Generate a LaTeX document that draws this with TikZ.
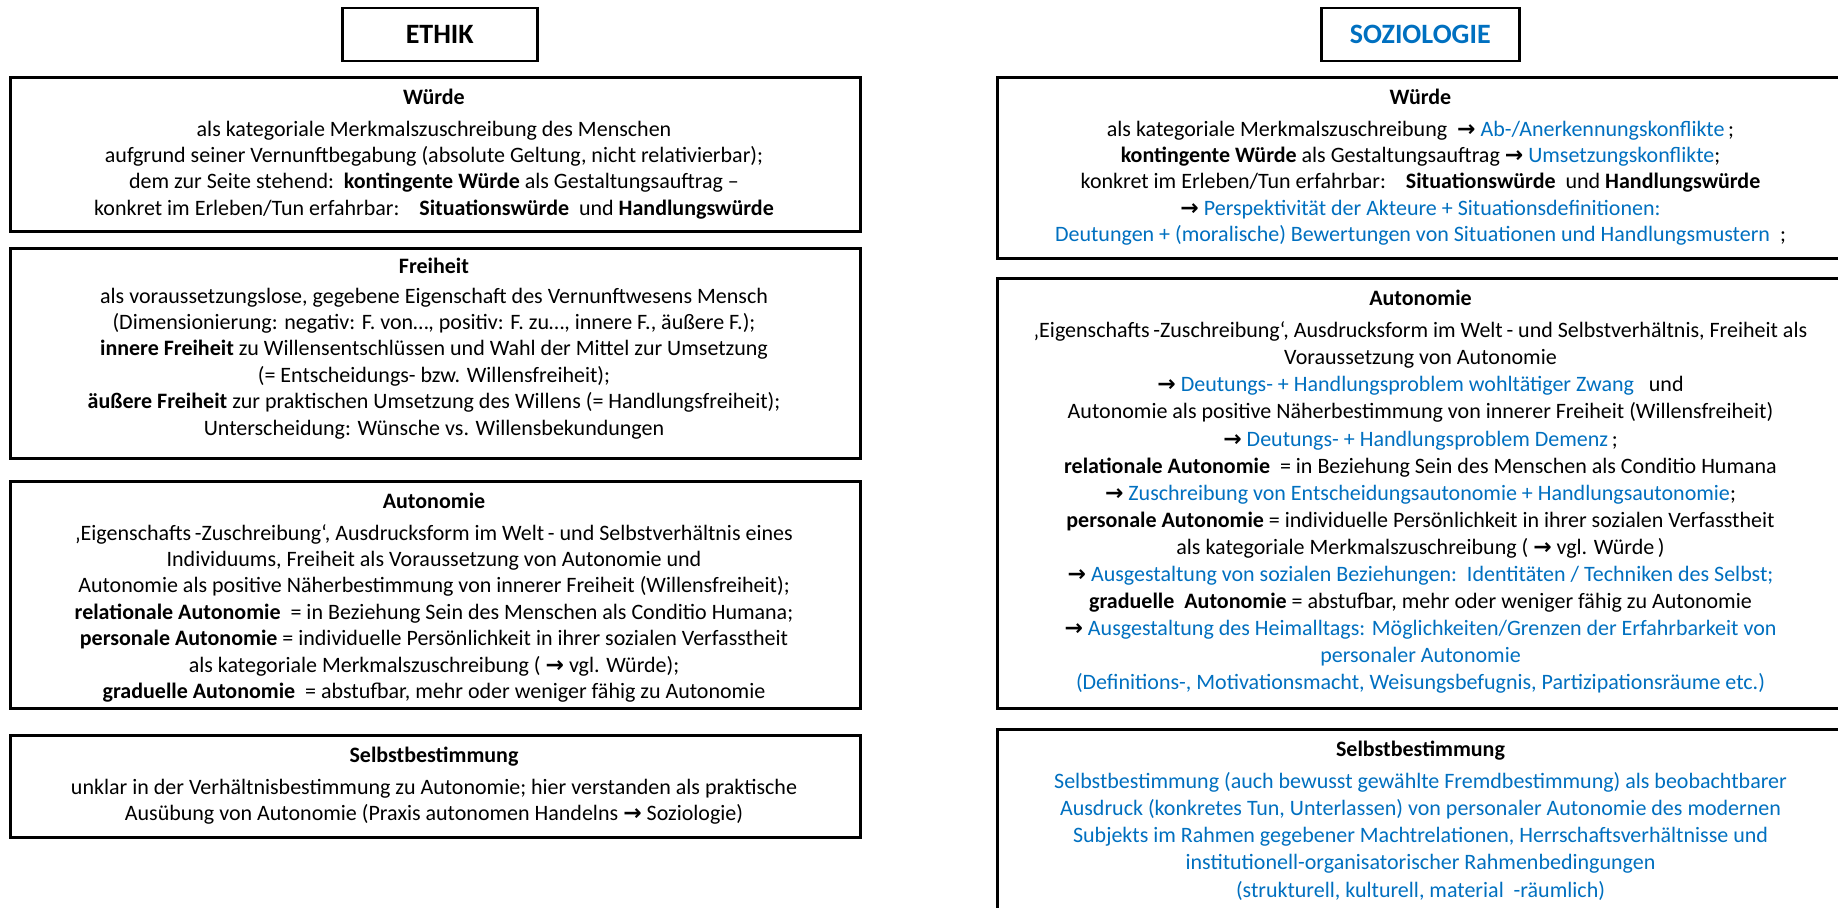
\documentclass[tikz,border=0pt]{standalone}
\usepackage{fontspec}
\setmainfont{Carlito}
\newfontfamily\arrowfont{DejaVu Sans}
\definecolor{sblue}{HTML}{0070C0}
\newcommand{\arr}{{\arrowfont\bfseries →}}
\newcommand{\bl}[1]{\textcolor{sblue}{#1}}
\begin{document}
\begin{tikzpicture}[x=1pt,y=-1pt,
  box/.style={draw=black, line width=2.5pt, fill=white, inner sep=0pt, anchor=north west},
  head/.style={box, font=\fontsize{28}{32}\selectfont\bfseries},
  txt/.style={align=center, inner sep=0pt, anchor=north, font=\fontsize{22}{26.4}\selectfont},
  txtb/.style={txt, font=\fontsize{22}{27.1}\selectfont}]
\useasboundingbox (0,0) rectangle (1838,907);
\clip (0,0) rectangle (1838,907);

% headers
\node[head, minimum width=195pt, minimum height=53pt] (eth) at (341,7) {ETHIK};
\node[head, minimum width=198pt, minimum height=53pt, text=sblue] (soz) at (1320,7) {SOZIOLOGIE};

% left column boxes
\node[box, minimum width=850pt, minimum height=154pt] (lw) at (9,76) {};
\node[box, minimum width=850pt, minimum height=210pt] (lf) at (9,247) {};
\node[box, minimum width=850pt, minimum height=227pt] (la) at (9,480) {};
\node[box, minimum width=850pt, minimum height=102pt] (ls) at (9,734) {};

% right column boxes
\node[box, minimum width=849pt, minimum height=181pt] (rw) at (996,76) {};
\node[box, minimum width=849pt, minimum height=430pt] (ra) at (996,277) {};
\node[box, minimum width=849pt, minimum height=200pt] (rs) at (996,728) {};

% left texts
\node[txt] (lwt) at (434,85.5) {\strut\textbf{Würde}\\[5.6pt]
als kategoriale Merkmalszuschreibung des Menschen\\
aufgrund seiner Vernunftbegabung (absolute Geltung, nicht relativierbar);\\
dem zur Seite stehend:\ \ \textbf{kontingente Würde} als Gestaltungsauftrag –\\
konkret im Erleben/Tun erfahrbar:\ \ \ \ \textbf{Situationswürde}\ \ und \textbf{Handlungswürde}};

\node[txt] (lft) at (434,254.5) {\strut\textbf{Freiheit}\\[3.6pt]
als voraussetzungslose, gegebene Eigenschaft des Vernunftwesens Mensch\\
(Dimensionierung: negativ: F. von…, positiv: F. zu…, innere F., äußere F.);\\
\textbf{innere Freiheit} zu Willensentschlüssen und Wahl der Mittel zur Umsetzung\\
(= Entscheidungs- bzw. Willensfreiheit);\\
\textbf{äußere Freiheit} zur praktischen Umsetzung des Willens (= Handlungsfreiheit);\\
Unterscheidung: Wünsche vs. Willensbekundungen};

\node[txt] (lat) at (434,489.5) {\strut\textbf{Autonomie}\\[5.6pt]
‚Eigenschafts\,-Zuschreibung‘, Ausdrucksform im Welt\,- und Selbstverhältnis eines\\
Individuums, Freiheit als Voraussetzung von Autonomie und\\
Autonomie als positive Näherbestimmung von innerer Freiheit (Willensfreiheit);\\
\textbf{relationale Autonomie}\ \ = in Beziehung Sein des Menschen als Conditio Humana;\\
\textbf{personale Autonomie}\ = individuelle Persönlichkeit in ihrer sozialen Verfasstheit\\
als kategoriale Merkmalszuschreibung (\ \arr\ vgl. Würde);\\
\textbf{graduelle Autonomie}\ \ = abstufbar, mehr oder weniger fähig zu Autonomie};

\node[txt] (lst) at (434,743.5) {\strut\textbf{Selbstbestimmung}\\[5.6pt]
unklar in der Verhältnisbestimmung zu Autonomie; hier verstanden als praktische\\
Ausübung von Autonomie (Praxis autonomen Handelns \arr\ Soziologie)};

% right texts
\node[txt] (rwt) at (1420.5,85.5) {\strut\textbf{Würde}\\[5.6pt]
als kategoriale Merkmalszuschreibung\ \ \arr\ \bl{Ab-/Anerkennungskonflikte}\,;\\
\textbf{kontingente Würde} als Gestaltungsauftrag \arr\ \bl{Umsetzungskonflikte};\\
konkret im Erleben/Tun erfahrbar:\ \ \ \ \textbf{Situationswürde}\ \ und \textbf{Handlungswürde}\\
\arr\ \bl{Perspektivität der Akteure + Situationsdefinitionen:}\\
\bl{Deutungen + (moralische) Bewertungen von Situationen und Handlungsmustern}\ \ ;};

\node[txtb] (rat) at (1420.5,286.5) {\strut\textbf{Autonomie}\\[4.9pt]
‚Eigenschafts\,-Zuschreibung‘, Ausdrucksform im Welt\,- und Selbstverhältnis, Freiheit als\\
Voraussetzung von Autonomie\\
\arr\ \bl{Deutungs- + Handlungsproblem wohltätiger Zwang}\ \ \ und\\
Autonomie als positive Näherbestimmung von innerer Freiheit (Willensfreiheit)\\
\arr\ \bl{Deutungs- + Handlungsproblem Demenz}\,;\\
\textbf{relationale Autonomie}\ \ = in Beziehung Sein des Menschen als Conditio Humana\\
\arr\ \bl{Zuschreibung von Entscheidungsautonomie + Handlungsautonomie};\\
\textbf{personale Autonomie}\ = individuelle Persönlichkeit in ihrer sozialen Verfasstheit\\
als kategoriale Merkmalszuschreibung (\ \arr\ vgl. Würde\,)\\
\arr\ \bl{Ausgestaltung von sozialen Beziehungen:\ \ Identitäten / Techniken des Selbst;}\\
\textbf{graduelle\ \ Autonomie} = abstufbar, mehr oder weniger fähig zu Autonomie\\
\arr\ \bl{Ausgestaltung des Heimalltags: Möglichkeiten/Grenzen der Erfahrbarkeit von}\\
\bl{personaler Autonomie}\\
\bl{(Definitions-, Motivationsmacht, Weisungsbefugnis, Partizipationsräume etc.)}};

\node[txtb] (rst) at (1420.5,737.5) {\strut\textbf{Selbstbestimmung}\\[4.9pt]
\bl{Selbstbestimmung (auch bewusst gewählte Fremdbestimmung) als beobachtbarer}\\
\bl{Ausdruck (konkretes Tun, Unterlassen) von personaler Autonomie des modernen}\\
\bl{Subjekts im Rahmen gegebener Machtrelationen, Herrschaftsverhältnisse und}\\
\bl{institutionell-organisatorischer Rahmenbedingungen}\\
\bl{(strukturell, kulturell, material\ \ -räumlich)}};
\end{tikzpicture}
\end{document}
